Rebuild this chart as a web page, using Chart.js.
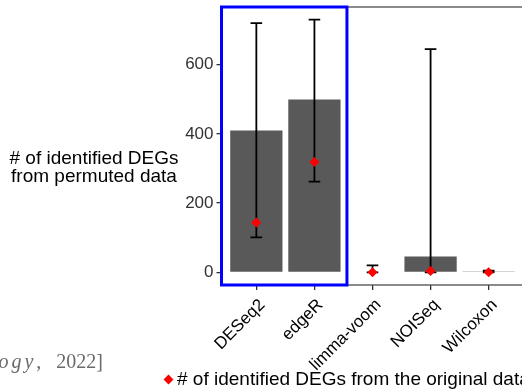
<!DOCTYPE html>
<html>
<head>
<meta charset="utf-8">
<script src="https://cdn.jsdelivr.net/npm/chart.js@4/dist/chart.umd.min.js"></script>
<style>
  html, body { margin: 0; padding: 0; background: #fff; overflow: hidden; }
  #wrap { position: relative; width: 530px; height: 389px; }
  #wrap canvas { position: absolute; left: 0; top: 0; }
  .txt { position: absolute; font-family: "Liberation Sans", Arial, sans-serif; color: #000; white-space: nowrap; }
  #ytitle { left: 0; top: 149px; width: 188px; text-align: center; font-size: 19px; line-height: 18px; }
  #legend { left: 177px; top: 370px; font-size: 19px; line-height: 18px; }
  #legkey { position: absolute; left: 164.5px; top: 375.5px; width: 7px; height: 7px; background: #ff0000; transform: rotate(45deg); }
  #cite { left: -300px; top: 351px; width: 403px; text-align: right; font-family: "Liberation Serif", "Times New Roman", serif; font-size: 20px; line-height: 20px; color: #6a6a6a; word-spacing: 10px; }
  #cite i { letter-spacing: 3px; }
</style>
</head>
<body>
<div id="wrap">
  <canvas id="chart" width="530" height="389"></canvas>
  <div class="txt" id="ytitle"># of identified DEGs<br>from permuted data</div>
  <div id="legkey"></div>
  <div class="txt" id="legend"># of identified DEGs from the original data</div>
  <div class="txt" id="cite">[Li et al., <i>Genome Biology</i>, 2022]</div>
</div>
<script>
// methods and values
const categories = ['DESeq2', 'edgeR', 'limma-voom', 'NOISeq', 'Wilcoxon'];
const permutedDEGs = [410, 499, 2, 46, 1];      // bar height
const permutedUpper = [720, 730, 20, 645, 5];   // error bar top
const permutedLower = [101, 262, 0, 0, 0];      // error bar bottom
const originalDEGs = [144, 319, 0, 4, 0];       // red diamonds
const yTicks = [0, 200, 400, 600];
const highlightRange = [-0.6, 1.56];            // blue box, in x units

const errorBars = {
    id: 'errorBars',
    afterDatasetDraw(chart, args) {
        if (args.meta.type !== 'bar') return;
        const { ctx, scales: { x, y } } = chart;
        ctx.save();
        ctx.strokeStyle = '#000';
        ctx.lineWidth = 1.8;
        categories.forEach((c, i) => {
            const px = x.getPixelForValue(i);
            const l = x.getPixelForValue(i - 0.1), r = x.getPixelForValue(i + 0.1);
            const top = y.getPixelForValue(permutedUpper[i]);
            const bot = y.getPixelForValue(permutedLower[i]);
            ctx.beginPath();
            ctx.moveTo(px, top); ctx.lineTo(px, bot);
            ctx.moveTo(l, top); ctx.lineTo(r, top);
            ctx.moveTo(l, bot); ctx.lineTo(r, bot);
            ctx.stroke();
        });
        ctx.restore();
    }
};

const panelBox = {
    id: 'panelBox',
    afterDraw(chart) {
        const { ctx, chartArea: a, scales: { x } } = chart;
        ctx.save();
        ctx.strokeStyle = '#4d4d4d';
        ctx.lineWidth = 1.3;
        ctx.strokeRect(a.left, a.top, a.right - a.left, a.bottom - a.top);
        ctx.strokeStyle = '#0000ff';
        ctx.lineWidth = 3;
        const x0 = x.getPixelForValue(highlightRange[0]);
        const x1 = x.getPixelForValue(highlightRange[1]);
        ctx.strokeRect(x0, a.top, x1 - x0, a.bottom - a.top);
        ctx.restore();
    }
};

const tickFont = { family: '"Liberation Sans", Arial, sans-serif', size: 17 };

new Chart(document.getElementById('chart').getContext('2d'), {
    type: 'bar',
    data: {
        datasets: [{
            type: 'bar',
            data: permutedDEGs.map((v, i) => ({ x: i, y: v })),
            backgroundColor: '#595959',
            borderWidth: 0,
            barPercentage: 0.9,
            categoryPercentage: 1,
            order: 1
        }, {
            type: 'scatter',
            data: originalDEGs.map((v, i) => ({ x: i, y: v })),
            pointStyle: 'rectRot',
            pointRadius: 5,
            backgroundColor: '#ff0000',
            borderWidth: 0,
            order: 0
        }]
    },
    options: {
        responsive: false,
        animation: false,
        layout: { padding: { top: 7, right: 6.5, left: 0, bottom: 0 } },
        plugins: { legend: { display: false }, tooltip: { enabled: false } },
        scales: {
            x: {
                type: 'linear',
                offset: false,
                min: -0.6,
                max: 4.6,
                afterBuildTicks: (s) => { s.ticks = categories.map((c, i) => ({ value: i })); },
                afterFit: (s) => { s.height = 104; s.paddingLeft = 0; s.paddingRight = 0; },
                grid: { offset: false, drawOnChartArea: false, drawTicks: true, tickLength: 5, color: '#333', lineWidth: 1.3 },
                border: { display: false },
                ticks: {
                    autoSkip: false,
                    minRotation: 45,
                    maxRotation: 45,
                    padding: 5,
                    labelOffset: 6,
                    color: '#000',
                    font: tickFont,
                    callback: (v) => categories[v]
                }
            },
            y: {
                min: -36.5,
                max: 766.5,
                afterBuildTicks: (s) => { s.ticks = yTicks.map(v => ({ value: v })); },
                afterFit: (s) => { s.width = 221.5; s.paddingTop = 0; s.paddingBottom = 0; },
                grid: { drawOnChartArea: false, drawTicks: true, tickLength: 5, color: '#333', lineWidth: 1.3 },
                border: { display: false },
                ticks: { padding: 3, color: '#333', font: tickFont }
            }
        }
    },
    plugins: [errorBars, panelBox]
});
</script>
</body>
</html>
